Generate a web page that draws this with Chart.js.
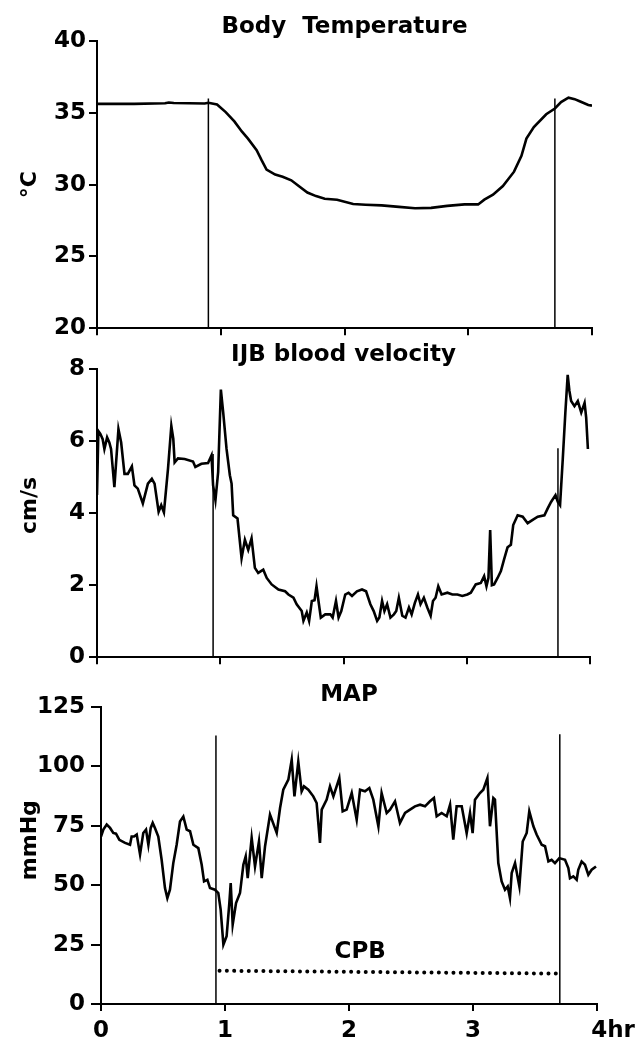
<!DOCTYPE html>
<html>
<head>
<meta charset="utf-8">
<script src="https://cdn.jsdelivr.net/npm/chart.js@4"></script>
<style>
  body { margin: 0; background: #fff; }
  #wrap { position: relative; width: 641px; height: 1046px; }
  canvas { position: absolute; left: 0; }
</style>
</head>
<body>
<div id="wrap">
  <canvas id="temp" width="641" height="345" style="top:0px"></canvas>
  <canvas id="vel" width="641" height="340" style="top:335px"></canvas>
  <canvas id="map" width="641" height="371" style="top:675px"></canvas>
</div>
<script>
// Body temperature (°C) vs time (hr)
const tempHours = [0, 0.3, 0.55, 0.58, 0.62, 0.87, 0.9, 0.97, 1.04, 1.11, 1.17, 1.22, 1.29, 1.33, 1.37, 1.44, 1.5, 1.57, 1.63, 1.7, 1.77, 1.84, 1.94, 2.07, 2.17, 2.3, 2.44, 2.57, 2.7, 2.83, 2.97, 3.08, 3.13, 3.2, 3.28, 3.37, 3.43, 3.47, 3.53, 3.63, 3.7, 3.75, 3.81, 3.86, 3.9, 3.97, 4.0];
const tempValues = [35.62, 35.62, 35.66, 35.72, 35.68, 35.65, 35.7, 35.58, 35.05, 34.4, 33.7, 33.2, 32.4, 31.7, 31.05, 30.7, 30.55, 30.3, 29.9, 29.45, 29.2, 29.02, 28.95, 28.65, 28.6, 28.55, 28.45, 28.35, 28.38, 28.52, 28.62, 28.62, 28.95, 29.3, 29.9, 30.9, 32.0, 33.2, 34.0, 34.9, 35.3, 35.75, 36.05, 35.95, 35.8, 35.55, 35.5];

// IJB blood velocity (cm/s)
const velHours = [0, 0.011, 0.027, 0.046, 0.06, 0.082, 0.1, 0.114, 0.141, 0.174, 0.196, 0.223, 0.25, 0.283, 0.304, 0.331, 0.372, 0.413, 0.445, 0.467, 0.5, 0.521, 0.543, 0.576, 0.603, 0.619, 0.63, 0.657, 0.711, 0.779, 0.798, 0.847, 0.901, 0.929, 0.942, 0.961, 0.983, 1.005, 1.024, 1.051, 1.078, 1.092, 1.105, 1.14, 1.173, 1.2, 1.227, 1.254, 1.281, 1.308, 1.349, 1.377, 1.417, 1.472, 1.526, 1.553, 1.594, 1.62, 1.661, 1.675, 1.702, 1.721, 1.743, 1.765, 1.781, 1.797, 1.816, 1.852, 1.893, 1.912, 1.939, 1.96, 1.982, 2.014, 2.041, 2.069, 2.109, 2.15, 2.183, 2.218, 2.245, 2.273, 2.291, 2.313, 2.332, 2.354, 2.381, 2.409, 2.428, 2.449, 2.477, 2.503, 2.531, 2.553, 2.579, 2.604, 2.625, 2.652, 2.68, 2.707, 2.726, 2.747, 2.769, 2.796, 2.843, 2.883, 2.924, 2.964, 3.005, 3.033, 3.073, 3.114, 3.141, 3.16, 3.176, 3.19, 3.204, 3.222, 3.25, 3.277, 3.304, 3.331, 3.358, 3.377, 3.413, 3.454, 3.494, 3.535, 3.576, 3.63, 3.657, 3.684, 3.72, 3.739, 3.757, 3.779, 3.8, 3.819, 3.833, 3.847, 3.874, 3.901, 3.929, 3.956, 3.969, 3.983];
const velValues = [4.5, 6.28, 6.2, 6.05, 5.78, 6.1, 5.96, 5.78, 4.72, 6.33, 5.96, 5.09, 5.09, 5.3, 4.77, 4.68, 4.27, 4.82, 4.95, 4.82, 4.04, 4.22, 4.02, 5.23, 6.42, 6.06, 5.41, 5.52, 5.5, 5.43, 5.28, 5.37, 5.39, 5.6, 4.77, 4.36, 5.14, 7.43, 6.79, 5.78, 5.05, 4.82, 3.94, 3.85, 2.75, 3.26, 2.98, 3.3, 2.48, 2.34, 2.43, 2.2, 2.02, 1.88, 1.83, 1.74, 1.65, 1.47, 1.28, 1.01, 1.24, 1.01, 1.56, 1.58, 1.97, 1.56, 1.1, 1.19, 1.19, 1.1, 1.56, 1.1, 1.28, 1.74, 1.79, 1.7, 1.83, 1.88, 1.83, 1.47, 1.28, 1.01, 1.1, 1.56, 1.28, 1.47, 1.1, 1.19, 1.28, 1.65, 1.15, 1.1, 1.38, 1.19, 1.51, 1.74, 1.47, 1.65, 1.38, 1.15, 1.56, 1.65, 1.97, 1.74, 1.79, 1.74, 1.74, 1.7, 1.74, 1.79, 2.02, 2.06, 2.25, 1.97, 2.2, 3.53, 2.0, 2.02, 2.2, 2.39, 2.73, 3.05, 3.12, 3.67, 3.94, 3.9, 3.72, 3.81, 3.9, 3.94, 4.13, 4.31, 4.5, 4.31, 4.22, 5.5, 6.79, 7.84, 7.39, 7.11, 6.97, 7.11, 6.79, 7.06, 6.65, 5.78];

// MAP (mmHg)
const mapHours = [0, 0.019, 0.046, 0.073, 0.099, 0.121, 0.148, 0.194, 0.234, 0.247, 0.266, 0.288, 0.315, 0.341, 0.363, 0.382, 0.401, 0.417, 0.435, 0.462, 0.489, 0.516, 0.535, 0.556, 0.583, 0.61, 0.637, 0.664, 0.691, 0.718, 0.745, 0.785, 0.812, 0.831, 0.858, 0.879, 0.919, 0.946, 0.965, 0.987, 1.013, 1.035, 1.046, 1.062, 1.089, 1.121, 1.148, 1.167, 1.183, 1.215, 1.242, 1.274, 1.296, 1.323, 1.363, 1.417, 1.444, 1.47, 1.511, 1.538, 1.56, 1.591, 1.618, 1.637, 1.672, 1.712, 1.739, 1.766, 1.78, 1.82, 1.847, 1.874, 1.922, 1.949, 1.981, 2.022, 2.062, 2.089, 2.129, 2.164, 2.196, 2.237, 2.263, 2.304, 2.331, 2.371, 2.411, 2.452, 2.492, 2.532, 2.573, 2.613, 2.653, 2.685, 2.707, 2.747, 2.788, 2.815, 2.841, 2.868, 2.909, 2.949, 2.976, 2.997, 3.016, 3.056, 3.083, 3.116, 3.137, 3.164, 3.177, 3.204, 3.231, 3.258, 3.28, 3.298, 3.312, 3.339, 3.374, 3.401, 3.433, 3.454, 3.487, 3.513, 3.554, 3.581, 3.608, 3.634, 3.661, 3.696, 3.742, 3.769, 3.782, 3.809, 3.836, 3.849, 3.876, 3.903, 3.93, 3.957, 3.992];
const mapValues = [70.5, 73.4, 75.5, 74.1, 72, 71.7, 69.1, 67.8, 67, 70.5, 70.5, 71.3, 62.9, 72, 73.4, 67, 74.1, 76.2, 74.1, 70.5, 60.7, 48.8, 44.6, 48.1, 59.3, 67, 76.8, 78.9, 73.4, 72.7, 67, 65.6, 58.6, 51.6, 52.3, 48.8, 48.1, 46.7, 39.7, 25, 28.5, 42.5, 50.9, 33.4, 42.5, 46.7, 58.6, 62.1, 53, 69.9, 57.9, 68.4, 53, 66.4, 79.7, 72, 82.5, 90.2, 94.4, 102.8, 87.4, 102, 89.5, 91.6, 90.2, 87.4, 84.6, 67.8, 81.8, 86, 91.6, 87.4, 95.1, 81.1, 81.8, 88.8, 77.6, 90.2, 89.5, 90.9, 86, 74.8, 88.8, 80.4, 81.8, 85.3, 76.2, 80.4, 81.8, 83.2, 83.9, 83.2, 85.3, 86.7, 79, 80.4, 79, 83.9, 69.2, 83.2, 83.2, 71.9, 80.4, 71.9, 86, 88.8, 90.2, 95.1, 74.8, 86.7, 86, 59.3, 51.6, 48.1, 49.5, 44.6, 55.1, 59.3, 49.5, 68.4, 72, 81.1, 74.8, 71.3, 67, 66.4, 60, 60.7, 59.3, 61.4, 60.7, 57.2, 52.9, 53.7, 52.3, 56.5, 60, 58.6, 54.4, 56.5, 57.9];

// start / end of bypass marker lines and their tops
const tempMarkers = [0.9, 3.7];
const tempMarkerTops = [36, 36];
const velMarkers = [0.942, 3.74];
const velMarkerTops = [5.64, 5.8];
const mapMarkers = [0.927, 3.7];
const mapMarkerTops = [113, 113.5];

// CPB dotted bar and its label
const cpbHours = [0.956, 3.69];
const cpbValues = [14, 12.8];
const cpbLabelAt = [2.09, 22];

const FONT = '"DejaVu Sans", sans-serif';
Chart.defaults.font.family = FONT;
Chart.defaults.color = '#000';

const line = (pts, extra) => Object.assign({
    data: pts, borderColor: '#000', borderWidth: 1.5, pointRadius: 0, tension: 0, fill: false
}, extra);

const cpbLabel = {
    id: 'cpbLabel',
    afterDatasetsDraw(chart) {
        const { ctx, scales: { x, y } } = chart;
        ctx.save();
        ctx.font = 'bold 23px ' + FONT;
        ctx.fillStyle = '#000';
        ctx.textAlign = 'center';
        ctx.textBaseline = 'middle';
        ctx.fillText('CPB', x.getPixelForValue(cpbLabelAt[0]), y.getPixelForValue(cpbLabelAt[1]));
        ctx.restore();
    }
};

const makePanel = (id, o) => {
    const datasets = [line(o.hours.map((h, i) => ({ x: h, y: o.values[i] })), { borderWidth: 2.6 })];
    o.markers.forEach((m, i) => datasets.push(line([{ x: m, y: o.yMin }, { x: m, y: o.markerTops[i] }])));
    if (o.extra) datasets.push(...o.extra);

    return new Chart(document.getElementById(id), {
        type: 'line',
        data: { datasets },
        plugins: o.plugins || [],
        options: {
            responsive: false,
            animation: false,
            devicePixelRatio: 1,
            layout: { padding: { left: 0, top: 0, bottom: 0, right: o.padRight } },
            plugins: {
                legend: { display: false },
                tooltip: { enabled: false },
                title: {
                    display: true, text: o.title, fullSize: false, color: '#000',
                    font: { size: 23, weight: 'bold', lineHeight: 1 },
                    padding: o.titlePad
                }
            },
            scales: {
                x: {
                    type: 'linear', min: 0, max: 4,
                    afterFit: s => { s.height = o.xHeight; },
                    ticks: {
                        stepSize: 1, autoSkip: false, maxRotation: 0, padding: 6, color: '#000',
                        font: { size: 23, weight: 'bold' },
                        callback: o.xLabel || (() => '')
                    },
                    grid: { drawOnChartArea: false, tickLength: 7, color: '#000', lineWidth: 2 },
                    border: { color: '#000', width: 2 }
                },
                y: {
                    min: o.yMin, max: o.yMax,
                    afterFit: s => { s.width = o.yWidth; },
                    ticks: { stepSize: o.step, padding: o.yTickPad, color: '#000', font: { size: 23, weight: 'bold' } },
                    grid: { drawOnChartArea: false, tickLength: o.yTickLen, color: '#000', lineWidth: 2 },
                    border: { color: '#000', width: 2 },
                    title: {
                        display: true, text: o.yTitle, color: '#000',
                        font: { size: 22, weight: 'bold', lineHeight: 1 },
                        padding: { top: 19, bottom: 0 }
                    }
                }
            }
        }
    });
};

makePanel('temp', {
    title: 'Body  Temperature', yTitle: '°C',
    hours: tempHours, values: tempValues, yMin: 20, yMax: 40, step: 5,
    markers: tempMarkers, markerTops: tempMarkerTops,
    yWidth: 97, yTickLen: 8, yTickPad: 3, padRight: 49, xHeight: 13,
    titlePad: { top: 15.5, bottom: 2.5 }
});

makePanel('vel', {
    title: 'IJB blood velocity', yTitle: '  cm/s',
    hours: velHours, values: velValues, yMin: 0, yMax: 8, step: 2,
    markers: velMarkers, markerTops: velMarkerTops,
    yWidth: 97, yTickLen: 8, yTickPad: 4, padRight: 51, xHeight: 15,
    titlePad: { top: 8.5, bottom: 2.5 }
});

makePanel('map', {
    title: 'MAP', yTitle: '    mmHg',
    hours: mapHours, values: mapValues, yMin: 0, yMax: 125, step: 25,
    markers: mapMarkers, markerTops: mapMarkerTops,
    extra: [line(cpbHours.map((h, i) => ({ x: h, y: cpbValues[i] })), {
        borderWidth: 4, borderDash: [0.01, 7.3], borderCapStyle: 'round'
    })],
    plugins: [cpbLabel],
    xLabel: v => (v === 4 ? '    4hr' : String(v)),
    yWidth: 101, yTickLen: 10, yTickPad: 6, padRight: 44, xHeight: 42,
    titlePad: { top: 8.5, bottom: 0.5 }
});
</script>
</body>
</html>
